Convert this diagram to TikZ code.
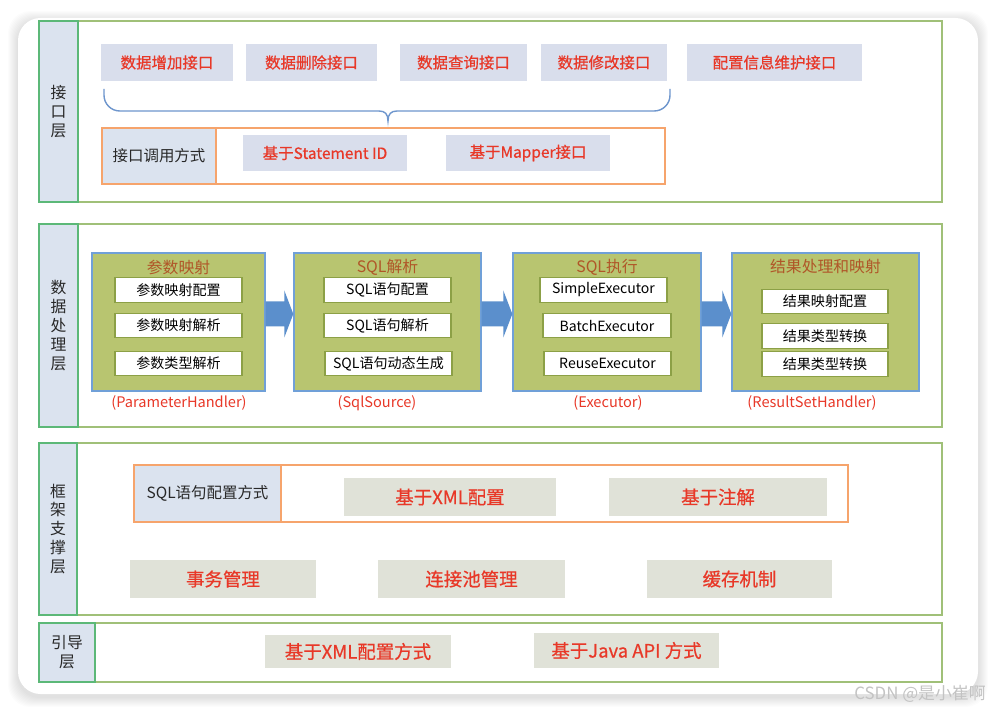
\documentclass[tikz,border=0pt]{standalone}
\usepackage{fontspec}
\setmainfont{Noto Sans CJK SC}
\newfontfamily\redfont[FakeBold=0.6]{Noto Sans CJK SC}
\usepackage{tikz}
\usetikzlibrary{calc}
\definecolor{apitext}{RGB}{232, 56, 40}
\definecolor{apifill}{RGB}{217, 222, 236}
\definecolor{layerfill}{RGB}{219, 227, 239}
\definecolor{layerborder}{RGB}{92, 184, 120}
\definecolor{frameborder}{RGB}{160, 192, 120}
\definecolor{groupborder}{RGB}{246, 164, 108}
\definecolor{stagefill}{RGB}{184, 197, 112}
\definecolor{stageborder}{RGB}{112, 160, 216}
\definecolor{stagetitlecolor}{RGB}{176, 86, 40}
\definecolor{itemborder}{RGB}{140, 160, 70}
\definecolor{supportfill}{RGB}{224, 226, 216}
\definecolor{flowcolor}{RGB}{91, 143, 204}
\definecolor{bracecolor}{RGB}{110, 150, 205}
\definecolor{darktext}{RGB}{40, 40, 40}
\definecolor{markcolor}{RGB}{195, 195, 195}

\begin{document}
\begin{tikzpicture}[
    x=0.02cm, y=-0.02cm,
    % Estilos
    layerframe/.style={draw=frameborder, line width=0.8pt},
    layerlabel/.style={
        rectangle,
        draw=layerborder,
        fill=layerfill,
        line width=0.8pt,
        align=center,
        inner sep=0pt,
        font=\fontsize{9}{10.8}\selectfont,
        text=darktext
    },
    apinode/.style={
        rectangle,
        fill=apifill,
        inner sep=0pt,
        minimum height=0.74cm,
        font=\redfont\fontsize{8.8}{10}\selectfont,
        text=apitext
    },
    groupframe/.style={draw=groupborder, line width=0.8pt},
    grouplabel/.style={
        rectangle,
        draw=groupborder,
        fill=layerfill,
        line width=0.8pt,
        inner sep=0pt,
        font=\fontsize{8.8}{10}\selectfont,
        text=darktext
    },
    stagenode/.style={
        rectangle,
        draw=stageborder,
        fill=stagefill,
        line width=0.8pt,
        inner sep=0pt,
        minimum height=2.76cm
    },
    stagetitle/.style={
        font=\fontsize{9}{10}\selectfont,
        text=stagetitlecolor
    },
    itemnode/.style={
        rectangle,
        draw=itemborder,
        fill=white,
        line width=0.6pt,
        inner sep=0pt,
        minimum width=2.54cm,
        minimum height=0.49cm,
        font=\fontsize{8}{9}\selectfont,
        text=black
    },
    captionlabel/.style={
        font=\fontsize{8.3}{9}\selectfont,
        text=apitext
    },
    supportnode/.style={
        rectangle,
        fill=supportfill,
        inner sep=0pt,
        minimum height=0.76cm,
        font=\redfont\fontsize{10.5}{11}\selectfont,
        text=apitext
    },
    flowarrow/.style={fill=flowcolor},
    braceline/.style={draw=bracecolor, line width=0.8pt}
]
\useasboundingbox (0,0) rectangle (996,712);

% ============================================================================
% Cartão com sombra
% ============================================================================
\fill[white] (0,0) rectangle (996,712);
\foreach \i in {1,...,10}
    \fill[black, opacity=0.012, rounded corners=0.45cm] (18-\i,18-\i+3) rectangle (978+\i,694+\i+3);
\fill[white, rounded corners=0.45cm] (18,18) rectangle (978,694);

% ============================================================================
% 接口层
% ============================================================================
\draw[layerframe] (39,21) rectangle (942,202);
\node[layerlabel, minimum width=0.78cm, minimum height=3.62cm] (apilayer) at (58.5,111.5) {接\\口\\层};

\node[apinode, minimum width=2.64cm] (addapi) at (167,62.5) {数据增加接口};
\node[apinode, minimum width=2.62cm] (delapi) at (311.5,62.5) {数据删除接口};
\node[apinode, minimum width=2.54cm] (queryapi) at (463.5,62.5) {数据查询接口};
\node[apinode, minimum width=2.52cm] (modapi) at (604,62.5) {数据修改接口};
\node[apinode, minimum width=3.50cm] (cfgapi) at (774.5,62.5) {配置信息维护接口};

% chave
\draw[braceline, rounded corners=9] (104,89) -- (104,111) -- (379,111);
\draw[braceline] (379,111) .. controls (385,111) and (388,114) .. (388,121)
    .. controls (388,114) and (391,111) .. (397,111);
\draw[braceline, rounded corners=9] (397,111) -- (670,111) -- (670,89);

\draw[groupframe] (102,128) rectangle (665,184);
\node[grouplabel, minimum width=2.28cm, minimum height=1.12cm] (calllabel) at (159,156) {接口调用方式};
\node[apinode, minimum width=3.28cm, minimum height=0.72cm] (stmtid) at (325,153) {基于Statement ID};
\node[apinode, minimum width=3.28cm, minimum height=0.72cm] (mapper) at (528,153) {基于Mapper接口};

% ============================================================================
% 数据处理层
% ============================================================================
\draw[layerframe] (39,224) rectangle (942,427);
\node[layerlabel, minimum width=0.78cm, minimum height=4.06cm] (datalayer) at (58.5,325.5) {数\\据\\处\\理\\层};

\node[stagenode, minimum width=3.46cm] (param) at (178.5,322) {};
\node[stagenode, minimum width=3.74cm] (sqlparse) at (387.5,322) {};
\node[stagenode, minimum width=3.76cm] (sqlexec) at (607,322) {};
\node[stagenode, minimum width=3.74cm] (result) at (825.5,322) {};

\node[stagetitle] (paramtitle) at (178.5,267) {参数映射};
\node[stagetitle] (sqlparsetitle) at (387.5,267) {SQL解析};
\node[stagetitle] (sqlexectitle) at (607,267) {SQL执行};
\node[stagetitle] (resulttitle) at (825.5,267) {结果处理和映射};

\node[itemnode] (paramcfg) at (178.5,290) {参数映射配置};
\node[itemnode] (paramparse) at (178.5,325.5) {参数映射解析};
\node[itemnode] (paramtype) at (178.5,363.5) {参数类型解析};

\node[itemnode] (sqlcfgitem) at (387.5,290) {SQL语句配置};
\node[itemnode] (sqlparseitem) at (387.5,325.5) {SQL语句解析};
\node[itemnode] (sqldyn) at (388.5,363.5) {SQL语句动态生成};

\node[itemnode] (simpleexec) at (603.5,290) {SimpleExecutor};
\node[itemnode, minimum width=2.56cm] (batchexec) at (607,325.5) {BatchExecutor};
\node[itemnode] (reuseexec) at (607.5,363.5) {ReuseExecutor};

\node[itemnode, minimum width=2.52cm] (resultmap) at (825,301.5) {结果映射配置};
\node[itemnode, minimum width=2.52cm] (resulttype) at (825,336) {结果类型转换};
\node[itemnode, minimum width=2.52cm] (resulttype2) at (825,364) {结果类型转换};

\node[captionlabel] (paramcap) at (179,403) {(ParameterHandler)};
\node[captionlabel] (sqlparsecap) at (377,403) {(SqlSource)};
\node[captionlabel] (sqlexeccap) at (608,403) {(Executor)};
\node[captionlabel] (resultcap) at (812,403) {(ResultSetHandler)};

% setas de bloco
\foreach \a/\b in {param/sqlparse, sqlparse/sqlexec, sqlexec/result}
    \fill[flowarrow] ($(\a.east)+(0,-20.5)$) -- ($(\b.west)+(-9,-20.5)$) -- ($(\b.west)+(-9,-31.5)$)
        -- ($(\b.west)+(0,-8)$) -- ($(\b.west)+(-9,15.5)$) -- ($(\b.west)+(-9,4.5)$)
        -- ($(\a.east)+(0,4.5)$) -- cycle;

% ============================================================================
% 框架支撑层
% ============================================================================
\draw[layerframe] (39,443) rectangle (942,615);
\node[layerlabel, minimum width=0.76cm, minimum height=3.44cm] (supportlayer) at (58,529) {框\\架\\支\\撑\\层};

\draw[groupframe] (134,465) rectangle (848,522);
\node[grouplabel, minimum width=2.94cm, minimum height=1.14cm] (sqlcfglabel) at (207.5,493.5) {SQL语句配置方式};
\node[supportnode, minimum width=4.24cm] (xmlcfg) at (450,497) {基于XML配置};
\node[supportnode, minimum width=4.36cm] (annot) at (718,497) {基于注解};

\node[supportnode, minimum width=3.72cm] (txmgr) at (223,579) {事务管理};
\node[supportnode, minimum width=3.74cm] (poolmgr) at (471.5,579) {连接池管理};
\node[supportnode, minimum width=3.70cm] (cache) at (739.5,579) {缓存机制};

% ============================================================================
% 引导层
% ============================================================================
\draw[layerframe] (39,623) rectangle (942,682);
\node[layerlabel, minimum width=1.12cm, minimum height=1.18cm] (bootlayer) at (67,652.5) {引导\\层};

\node[supportnode, minimum width=3.72cm, minimum height=0.66cm] (bootxml) at (358,651.5) {基于XML配置方式};
\node[supportnode, minimum width=3.70cm, minimum height=0.70cm] (bootapi) at (626.5,650.5) {基于Java API 方式};

% marca
\node[font=\fontsize{9.6}{10}\selectfont, text=markcolor] (mark) at (920,694) {CSDN @是小崔啊};

\end{tikzpicture}
\end{document}
